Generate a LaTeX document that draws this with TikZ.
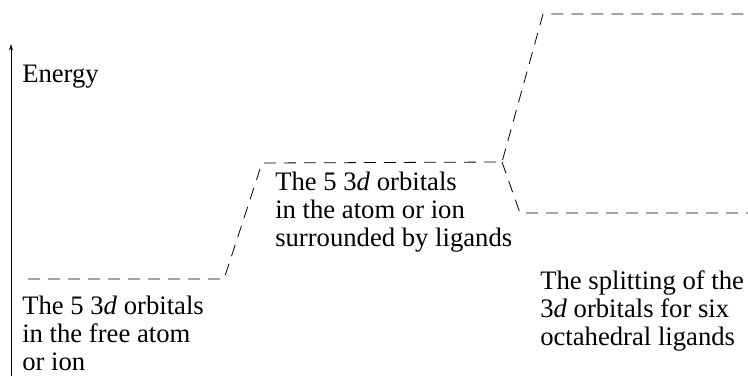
\documentclass[tikz,border=0pt]{standalone}
\usepackage{fontspec}
\setmainfont{Liberation Serif}
\usetikzlibrary{arrows.meta}
\begin{document}
\begin{tikzpicture}[x=0.75pt,y=-0.75pt,
  level/.style={line width=0.6pt,dash pattern=on 9pt off 6pt},
  label/.style={anchor=north west,inner sep=0pt,align=left,font=\fontsize{20pt}{21pt}\selectfont}]
\useasboundingbox (0,0) rectangle (748,376);
% energy axis
\coordinate (ab) at (11,376);
\coordinate (at) at (11,44);
\draw[line width=0.6pt,-{Stealth[length=5pt,width=3pt]}] (ab) -- (at);
\node[label] (energy) at (22,65) {Energy};
% levels
\coordinate (f0) at (28,279);
\coordinate (f1) at (224,279);
\coordinate (m0) at (262,163);
\coordinate (j) at (502,162);
\coordinate (u0) at (543,14);
\coordinate (u1) at (748,14);
\coordinate (l0) at (520,213);
\coordinate (l1) at (748,213);
\draw[level] (f0) -- (f1) -- (m0) -- (j) -- (u0) -- (u1);
\draw[level] (j) -- (l0) -- (l1);
% labels
\node[label] (free) at (22,296) {The 5 3\textit{d} orbitals\\in the free atom\\or ion};
\node[label] (lig) at (275,172) {The 5 3\textit{d} orbitals\\in the atom or ion\\surrounded by ligands};
\node[label] (split) at (540,270) {The splitting of the\\3\textit{d} orbitals for six\\octahedral ligands};
\end{tikzpicture}
\end{document}
